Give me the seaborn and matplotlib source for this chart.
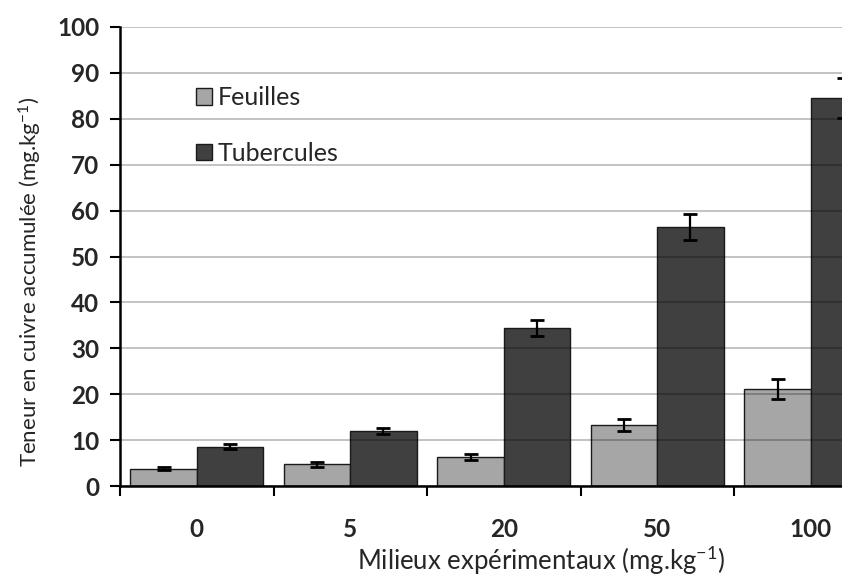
import matplotlib
matplotlib.use("Agg")
import matplotlib.pyplot as plt
import seaborn as sns
import pandas as pd
import numpy as np

categories = ["0", "5", "20", "50", "100"]
feuilles = [3.8, 4.7, 6.3, 13.3, 21.2]
feuilles_err = [0.4, 0.6, 0.6, 1.3, 2.2]
tubercules = [8.6, 12.0, 34.4, 56.5, 84.5]
tubercules_err = [0.5, 0.7, 1.8, 2.8, 4.3]
series = ["Feuilles", "Tubercules"]
colors = ["#A6A6A6", "#404040"]

sns.set_theme(style="white")
plt.rcParams["font.family"] = ["Lato", "DejaVu Sans"]
plt.rcParams["mathtext.fontset"] = "custom"
plt.rcParams["mathtext.rm"] = "Lato"
plt.rcParams["mathtext.default"] = "rm"

df = pd.DataFrame({
    "Milieu": categories * 2,
    "Organe": [series[0]] * 5 + [series[1]] * 5,
    "Teneur": feuilles + tubercules,
})
errs = {series[0]: feuilles_err, series[1]: tubercules_err}

fig = plt.figure(figsize=(8.42, 5.76), dpi=100)
ax = fig.add_axes([120 / 842, 1 - 486 / 576, 767.5 / 842, (486 - 27) / 576])

sns.barplot(data=df, x="Milieu", y="Teneur", hue="Organe", order=categories,
            hue_order=series, palette=colors, width=0.865, gap=0,
            edgecolor="#1a1a1a", linewidth=1.0, errorbar=None, ax=ax,
            saturation=1)

for cont, s in zip(ax.containers, series):
    for bar, e in zip(cont, errs[s]):
        xc = bar.get_x() + bar.get_width() / 2
        ax.errorbar(xc, bar.get_height(), yerr=e, color="black", capsize=5,
                    elinewidth=1.6, capthick=2, fmt="none", zorder=5)

ax.set_ylim(0, 100)
ax.set_xlim(-0.5, 4.5)
ax.set_yticks(np.arange(0, 101, 10))
ax.yaxis.grid(True, color="black", alpha=0.28, linewidth=1.2)
ax.set_axisbelow(False)

for sp in ["top", "right"]:
    ax.spines[sp].set_visible(False)
for sp in ["left", "bottom"]:
    ax.spines[sp].set_color("black")
    ax.spines[sp].set_linewidth(1.8)

ax.tick_params(axis="y", which="major", direction="out", length=7, width=1.5,
               color="black", left=True, labelsize=17.5, pad=8)
ax.set_xticks(range(len(categories)))
ax.set_xticklabels(categories)
ax.set_xticks(np.arange(-0.5, 4.6, 1), minor=True)
ax.tick_params(axis="x", which="major", length=0, labelsize=17.5, pad=23)
ax.tick_params(axis="x", which="minor", direction="out", length=7, width=1.5,
               color="black", bottom=True)
for lab in ax.get_xticklabels() + ax.get_yticklabels():
    lab.set_fontweight("bold")

ax.set_xlabel("Milieux expérimentaux (mg.kg$^{-1}$)", fontsize=18.5, va="baseline")
ax.xaxis.set_label_coords((541 - 120) / 767.5, -(570 - 486) / 459)
ax.set_ylabel("Teneur en cuivre accumulée (mg.kg$^{-1}$)", fontsize=16, va="center")
ax.yaxis.set_label_coords((30 - 120) / 767.5, (486 - 282) / 459)

leg = ax.legend(loc="upper left", bbox_to_anchor=(0.07, 0.92), frameon=False,
                fontsize=18, handlelength=0.65, handleheight=0.65,
                handletextpad=0.2, labelspacing=1.3)
for h in leg.legend_handles:
    h.set_edgecolor("#1a1a1a")
    h.set_linewidth(1.0)

fig.savefig("out.png", dpi=100)
